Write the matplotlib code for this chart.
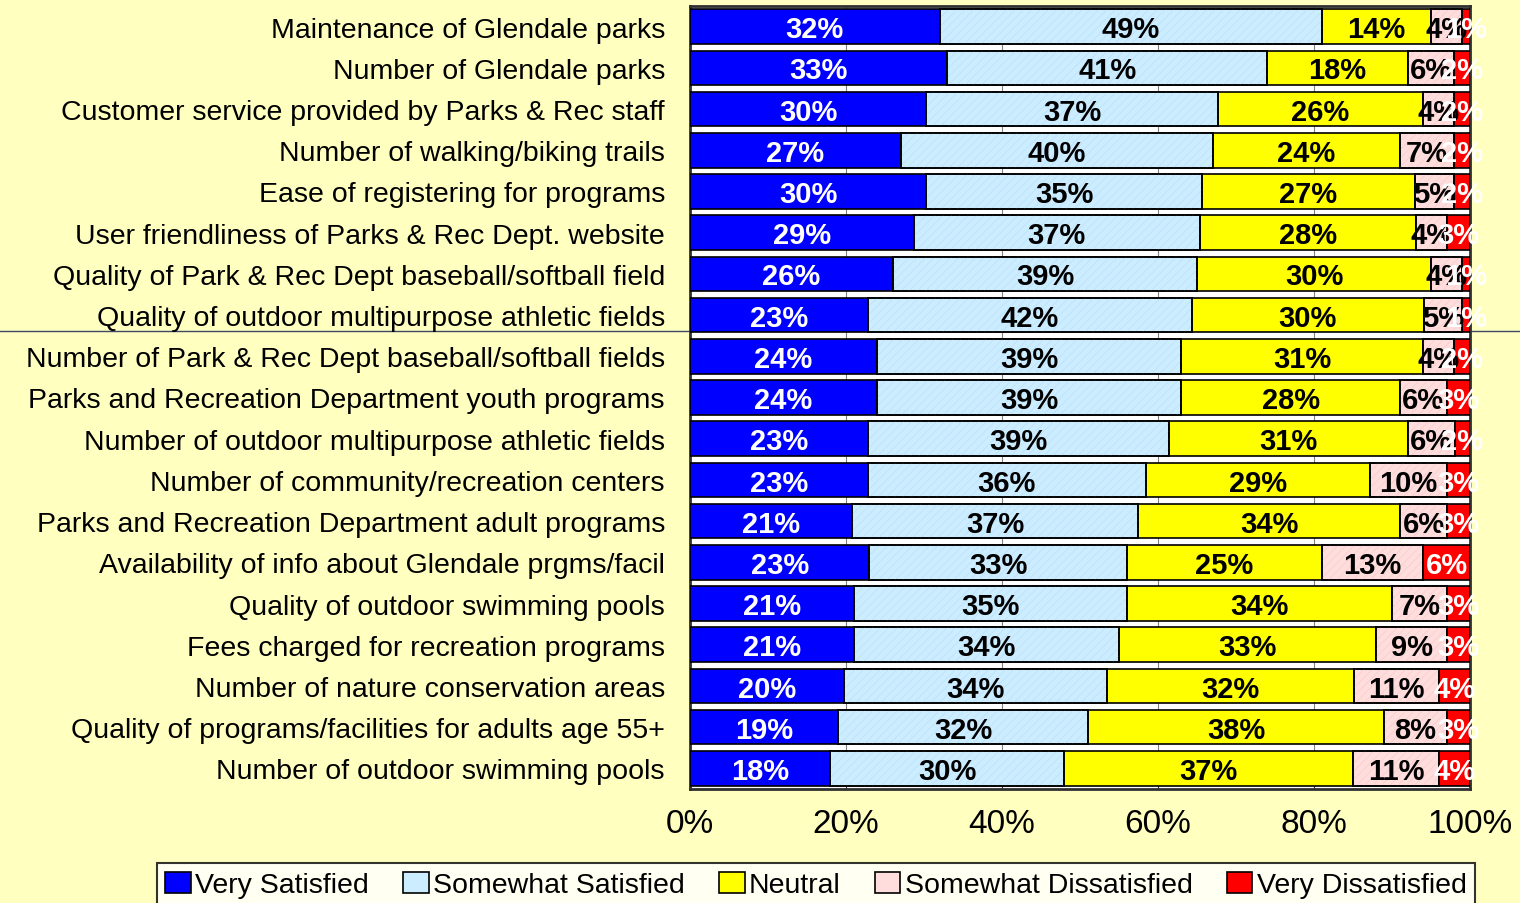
import matplotlib
matplotlib.use("Agg")
import matplotlib.pyplot as plt
from matplotlib.lines import Line2D
from matplotlib.patches import Patch
import numpy as np

plt.rcParams['font.family'] = ['Liberation Sans', 'DejaVu Sans']
plt.rcParams['hatch.linewidth'] = 0.4

categories = [
    "Maintenance of Glendale parks",
    "Number of Glendale parks",
    "Customer service provided by Parks & Rec staff",
    "Number of walking/biking trails",
    "Ease of registering for programs",
    "User friendliness of Parks & Rec Dept. website",
    "Quality of Park & Rec Dept baseball/softball field",
    "Quality of outdoor multipurpose athletic fields",
    "Number of Park & Rec Dept baseball/softball fields",
    "Parks and Recreation Department youth programs",
    "Number of outdoor multipurpose athletic fields",
    "Number of community/recreation centers",
    "Parks and Recreation Department adult programs",
    "Availability of info about Glendale prgms/facil",
    "Quality of outdoor swimming pools",
    "Fees charged for recreation programs",
    "Number of nature conservation areas",
    "Quality of programs/facilities for adults age 55+",
    "Number of outdoor swimming pools",
]
very_satisfied = [32, 33, 30, 27, 30, 29, 26, 23, 24, 24, 23, 23, 21, 23, 21, 21, 20, 19, 18]
somewhat_satisfied = [49, 41, 37, 40, 35, 37, 39, 42, 39, 39, 39, 36, 37, 33, 35, 34, 34, 32, 30]
neutral = [14, 18, 26, 24, 27, 28, 30, 30, 31, 28, 31, 29, 34, 25, 34, 33, 32, 38, 37]
somewhat_dissatisfied = [4, 6, 4, 7, 5, 4, 4, 5, 4, 6, 6, 10, 6, 13, 7, 9, 11, 8, 11]
very_dissatisfied = [1, 2, 2, 2, 2, 3, 1, 1, 2, 3, 2, 3, 3, 6, 3, 3, 4, 3, 4]
series_names = ["Very Satisfied", "Somewhat Satisfied", "Neutral",
                "Somewhat Dissatisfied", "Very Dissatisfied"]
x_ticks = [0, 20, 40, 60, 80, 100]
x_tick_labels = ["0%", "20%", "40%", "60%", "80%", "100%"]

colors = ["#0000FF", "#CCECFF", "#FFFF00", "#FFDDDD", "#FF0000"]
hatch_col = [None, "#B8DEF6", None, "#F4C8C8", None]
text_colors = ["white", "black", "black", "black", "white"]

series = np.array([very_satisfied, somewhat_satisfied, neutral,
                   somewhat_dissatisfied, very_dissatisfied], dtype=float)
totals = series.sum(axis=0)
scaled = series / totals * 100.0

bg = "#FFFFC0"
fig = plt.figure(figsize=(15.2, 9.04), dpi=100, facecolor=bg)
# stray horizontal line across the figure
fig.add_artist(Line2D([0, 1], [1 - 332 / 904, 1 - 332 / 904],
                      transform=fig.transFigure, color="#404868", lw=1.0, zorder=0))
ax = fig.add_axes([690 / 1520, 1 - 790 / 904, 780 / 1520, 783 / 904])
ax.set_facecolor("white")
ax.set_zorder(1)

y = np.arange(len(categories))
left = np.zeros(len(categories))
for i in range(5):
    ax.barh(y, scaled[i], left=left, height=0.84, color=colors[i],
            edgecolor="black", linewidth=1.2, zorder=3)
    if hatch_col[i]:
        ax.barh(y, scaled[i], left=left, height=0.84, color="none",
                edgecolor=hatch_col[i], hatch="////", linewidth=0, zorder=3.5)
        ax.barh(y, scaled[i], left=left, height=0.84, color="none",
                edgecolor="black", linewidth=1.2, zorder=3.6)
    for j in range(len(categories)):
        ax.text(left[j] + scaled[i][j] / 2, y[j] - 0.01, f"{int(series[i][j])}%",
                ha="center", va="center_baseline", color=text_colors[i],
                fontsize=21, fontweight="bold", zorder=5, clip_on=False)
    left += scaled[i]

ax.set_xlim(0, 100)
ax.set_ylim(len(categories) - 0.5, -0.5)
ax.set_xticks(x_ticks)
ax.set_xticklabels(x_tick_labels, fontsize=24)
ax.set_yticks(y)
ax.set_yticklabels(categories, fontsize=20.5)
ax.tick_params(axis="y", length=0, pad=18)
ax.tick_params(axis="x", length=5, direction="in", pad=14, color="#404040")
ax.xaxis.grid(True, color="#808080", lw=0.8, zorder=0)
ax.set_axisbelow(True)
for s in ax.spines.values():
    s.set_color("#303030")
    s.set_linewidth(2)

handles = [Patch(facecolor=colors[i], edgecolor="black", linewidth=1.2) for i in range(5)]
leg = fig.legend(handles, series_names, loc="upper center", ncol=5,
                 bbox_to_anchor=(816 / 1520, 1 - 864 / 904), fontsize=20.5,
                 frameon=True, fancybox=False, edgecolor="black",
                 handlelength=0.9, handleheight=0.8, handletextpad=0.15,
                 columnspacing=1.2, borderpad=0.3, borderaxespad=0)
leg.get_frame().set_linewidth(1.5)
leg.get_frame().set_facecolor("white")

fig.savefig("out.png", dpi=100, facecolor=bg)
